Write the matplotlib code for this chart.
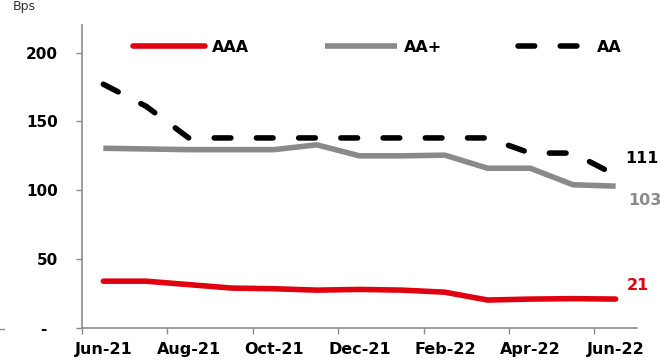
import matplotlib
matplotlib.use("Agg")
import matplotlib.pyplot as plt
from matplotlib.lines import Line2D
from matplotlib.transforms import ScaledTranslation

# Monthly spreads (bps)
months = ["Jun-21", "Jul-21", "Aug-21", "Sep-21", "Oct-21", "Nov-21", "Dec-21",
          "Jan-22", "Feb-22", "Mar-22", "Apr-22", "May-22", "Jun-22"]
aaa = [34, 34, 31.5, 29, 28.5, 27.5, 28, 27.5, 26, 20.3, 21, 21.3, 21]
aa_plus = [130.5, 130, 129.5, 129.5, 129.5, 133, 125, 125, 125.5, 116, 116, 104, 103]
aa = [177, 161, 138, 138, 138, 138, 138, 138, 138, 138, 127, 127, 111]

y_ticks = [0, 50, 100, 150, 200]
y_ticklabels = ["-", "50", "100", "150", "200"]

RED = "#e0000f"
GRAY = "#8a8a8a"
AXIS_GRAY = "#8c8c8c"
FONT = "DejaVu Sans"

plt.rcParams["font.family"] = FONT

fig = plt.figure(figsize=(6.6, 3.62), dpi=100)
ax = fig.add_axes([82 / 660, 34 / 362, 555 / 660, 303 / 362])

x = list(range(len(months)))
ax.plot(x, aaa, color=RED, lw=4, solid_capstyle="round", solid_joinstyle="round", label="AAA")
ax.plot(x, aa_plus, color=GRAY, lw=4, solid_capstyle="butt", solid_joinstyle="round", label="AA+")
ax.plot(x, aa, color="black", lw=4, linestyle=(0, (3, 4.6)), dash_capstyle="round",
        label="AA")

ax.set_xlim(-0.5, len(months) - 0.5)
ax.set_ylim(0, 220)

# y axis
ax.set_yticks(y_ticks)
ax.set_yticklabels(y_ticklabels)
ax.tick_params(axis="y", direction="out", length=4.3, width=1, color=AXIS_GRAY,
               pad=13, labelsize=11)
for lbl in ax.get_yticklabels():
    lbl.set_fontweight("bold")
zero_lbl = ax.get_yticklabels()[0]
zero_lbl.set_transform(zero_lbl.get_transform() + ScaledTranslation(-11 / 100, 0, fig.dpi_scale_trans))

# x axis: labels every other month, tick marks between categories
ax.set_xticks(x[::2])
ax.set_xticklabels(months[::2])
ax.set_xticks([i - 0.5 for i in range(0, len(months), 2)], minor=True)
ax.tick_params(axis="x", which="major", length=0, pad=10, labelsize=11.5)
ax.tick_params(axis="x", which="minor", direction="out", length=4.3, width=1,
               color=AXIS_GRAY)
for lbl in ax.get_xticklabels():
    lbl.set_fontweight("bold")

for side in ["top", "right"]:
    ax.spines[side].set_visible(False)
for side in ["left", "bottom"]:
    ax.spines[side].set_color(AXIS_GRAY)
    ax.spines[side].set_linewidth(1.2)

# end-of-series value labels
ax.annotate(f"{aaa[-1]:.0f}", (x[-1], aaa[-1]), xytext=(8, 10), textcoords="offset points",
            color=RED, fontsize=11.5, fontweight="bold", va="center", ha="left")
ax.annotate(f"{aa[-1]:.0f}", (x[-1], aa[-1]), xytext=(7, 12), textcoords="offset points",
            color="black", fontsize=11.5, fontweight="bold", va="center", ha="left")
ax.annotate(f"{aa_plus[-1]:.0f}", (x[-1], aa_plus[-1]), xytext=(9, -10), textcoords="offset points",
            color=GRAY, fontsize=11.5, fontweight="bold", va="center", ha="left")

leg = ax.legend(loc="center left", bbox_to_anchor=(0.092, 0.927), ncol=3, frameon=False,
                handlelength=4.5, handletextpad=0.44, columnspacing=4.75,
                borderpad=0, borderaxespad=0, prop={"weight": "bold", "size": 11.5})

# unit label at the top left
fig.text(13 / 660, 1 - 10 / 362, "Bps", fontsize=9, color="#333333", ha="left", va="baseline")

# small dash at the far left edge
fig.add_artist(Line2D([0 / 660, 4 / 660], [1 - 329 / 362, 1 - 329 / 362], color=AXIS_GRAY, lw=1))

fig.savefig("out.png", dpi=100)
